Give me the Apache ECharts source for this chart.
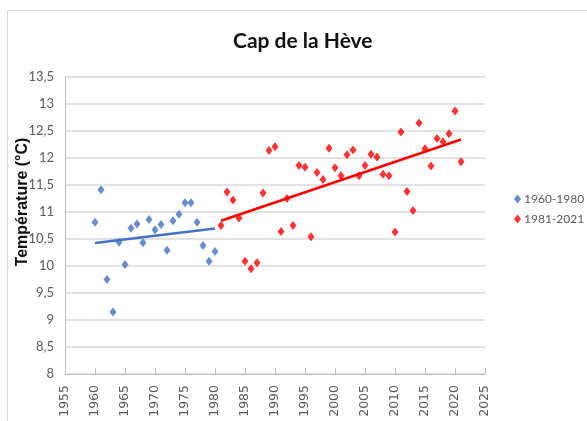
<!DOCTYPE html>
<html>
<head>
<meta charset="utf-8">
<script src="https://cdn.jsdelivr.net/npm/echarts@6.0.0/dist/echarts.min.js"></script>
<style>
  html, body { margin: 0; padding: 0; background: #fff; }
  #chart { width: 587px; height: 421px; }
</style>
</head>
<body>
<div id="chart"></div>
<script>
// années et températures moyennes (°C)
const years1 = [1960, 1961, 1962, 1963, 1964, 1965, 1966, 1967, 1968, 1969, 1970,
  1971, 1972, 1973, 1974, 1975, 1976, 1977, 1978, 1979, 1980];
const temps1 = [10.81, 11.41, 9.75, 9.15, 10.44, 10.03, 10.70, 10.78, 10.43, 10.86, 10.67,
  10.77, 10.29, 10.84, 10.96, 11.17, 11.17, 10.81, 10.38, 10.09, 10.27];

const years2 = [1981, 1982, 1983, 1984, 1985, 1986, 1987, 1988, 1989, 1990,
  1991, 1992, 1993, 1994, 1995, 1996, 1997, 1998, 1999, 2000,
  2001, 2002, 2003, 2004, 2005, 2006, 2007, 2008, 2009, 2010,
  2011, 2012, 2013, 2014, 2015, 2016, 2017, 2018, 2019, 2020, 2021];
const temps2 = [10.75, 11.37, 11.22, 10.89, 10.09, 9.95, 10.06, 11.35, 12.14, 12.21,
  10.64, 11.25, 10.75, 11.86, 11.83, 10.54, 11.73, 11.60, 12.18, 11.82,
  11.67, 12.06, 12.15, 11.67, 11.86, 12.07, 12.02, 11.70, 11.67, 10.63,
  12.48, 11.38, 11.03, 12.65, 12.17, 11.85, 12.36, 12.30, 12.45, 12.87, 11.93];

const seriesNames = ['1960-1980', '1981-2021'];
const xTicks = { min: 1955, max: 2025, step: 5 };
const yTicks = { min: 8, max: 13.5, step: 0.5 };

const toPairs = (xs, ys) => xs.map((x, i) => [x, ys[i]]);

// droite de tendance (moindres carrés)
function trend(xs, ys) {
  const n = xs.length;
  const mx = xs.reduce((a, b) => a + b, 0) / n;
  const my = ys.reduce((a, b) => a + b, 0) / n;
  let num = 0, den = 0;
  for (let i = 0; i < n; i++) {
    num += (xs[i] - mx) * (ys[i] - my);
    den += (xs[i] - mx) * (xs[i] - mx);
  }
  const b = num / den, a = my - b * mx;
  const x0 = xs[0], x1 = xs[n - 1];
  return [[x0, a + b * x0], [x1, a + b * x1]];
}

const grey = '#595959';
const narrow = "Lato, 'Liberation Sans', sans-serif";
const chart = echarts.init(document.getElementById('chart'));

const option = {
  animation: false,
  backgroundColor: '#fff',
  title: {
    text: 'Cap de la Hève',
    left: 233,
    top: 31,
    padding: 0,
    textStyle: {
      fontFamily: narrow,
      fontWeight: 'bold',
      fontSize: 21,
      color: '#111'
    }
  },
  legend: {
    orient: 'vertical',
    left: 514,
    top: 193,
    padding: 0,
    itemWidth: 7,
    itemHeight: 9,
    itemGap: 8,
    icon: 'diamond',
    data: seriesNames,
    textStyle: {
      fontFamily: narrow,
      fontSize: 12,
      color: grey,
      padding: [0, 0, 0, -2]
    }
  },
  grid: { left: 65, right: 102, top: 77, bottom: 47 },
  xAxis: {
    type: 'value',
    min: xTicks.min,
    max: xTicks.max,
    interval: xTicks.step,
    splitLine: { show: false },
    axisLine: { lineStyle: { color: '#bfbfbf', width: 1 } },
    axisTick: { show: true, inside: true, length: 6, lineStyle: { color: '#bfbfbf' } },
    axisLabel: {
      rotate: 90,
      margin: 11,
      color: grey,
      fontFamily: "'DejaVu Sans', sans-serif",
      fontSize: 12.5,
      formatter: v => String(v)
    }
  },
  yAxis: {
    type: 'value',
    min: yTicks.min,
    max: yTicks.max,
    interval: yTicks.step,
    axisLine: { show: true, lineStyle: { color: '#bfbfbf', width: 1 } },
    axisTick: { show: false },
    splitLine: { lineStyle: { color: '#d9d9d9', width: 1.5 } },
    axisLabel: {
      margin: 11,
      color: grey,
      fontFamily: narrow,
      fontSize: 13,
      formatter: v => String(v).replace('.', ',')
    }
  },
  graphic: [
    {
      type: 'rect',
      shape: { x: 7.5, y: 10.5, width: 600, height: 430 },
      style: { fill: 'none', stroke: '#d9d9d9', lineWidth: 1 },
      z: -1
    },
    {
      type: 'text',
      x: 15,
      y: 202,
      rotation: Math.PI / 2,
      style: {
        text: 'Température (°C)',
        fontFamily: "'Liberation Sans', sans-serif",
        fontWeight: 'bold',
        fontSize: 16,
        fill: '#111',
        align: 'center',
        verticalAlign: 'top'
      }
    }
  ],
  series: [
    {
      name: seriesNames[0],
      type: 'scatter',
      symbol: 'diamond',
      symbolSize: [7, 9],
      itemStyle: { color: '#4472C4' },
      data: toPairs(years1, temps1),
      z: 3
    },
    {
      name: seriesNames[1],
      type: 'scatter',
      symbol: 'diamond',
      symbolSize: [7, 9],
      itemStyle: { color: '#FF0000' },
      data: toPairs(years2, temps2),
      z: 3
    },
    {
      name: 'Tendance 1960-1980',
      type: 'line',
      showSymbol: false,
      lineStyle: { color: '#4472C4', width: 2.5 },
      data: trend(years1, temps1),
      z: 2
    },
    {
      name: 'Tendance 1981-2021',
      type: 'line',
      showSymbol: false,
      lineStyle: { color: '#FF0000', width: 2.5 },
      data: trend(years2, temps2),
      z: 2
    }
  ]
};

chart.setOption(option);
</script>
</body>
</html>
